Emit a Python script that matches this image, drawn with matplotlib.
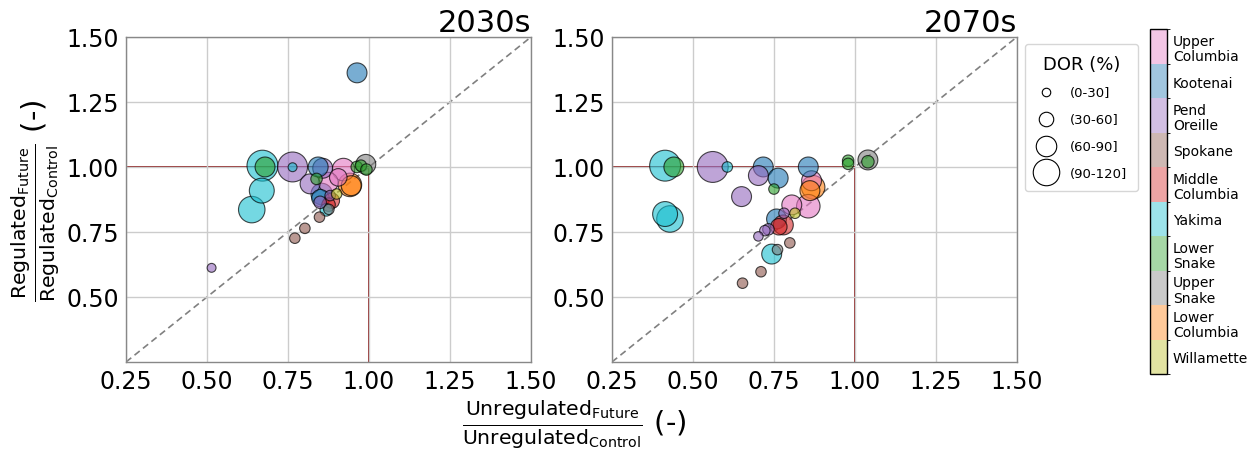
import matplotlib
matplotlib.use("Agg")
import matplotlib.pyplot as plt
import numpy as np
from matplotlib.colors import ListedColormap, BoundaryNorm, to_rgba
from matplotlib.lines import Line2D

plt.rcParams['font.family'] = ['DejaVu Sans']
plt.rcParams['mathtext.fontset'] = 'dejavusans'
plt.rcParams['mathtext.default'] = 'regular'

basins = ['Upper\nColumbia', 'Kootenai', 'Pend\nOreille', 'Spokane', 'Middle\nColumbia',
          'Yakima', 'Lower\nSnake', 'Upper\nSnake', 'Lower\nColumbia', 'Willamette']
basin_colors = ['#e377c2', '#1f77b4', '#9467bd', '#8c564b', '#d62728',
                '#17becf', '#2ca02c', '#7f7f7f', '#ff7f0e', '#bcbd22']

# 2030s: basin index, unregulated ratio, regulated ratio, DOR (%)
b30 = [5, 6, 5, 5, 2, 5, 2, 1, 2, 0, 0, 7, 6, 6, 6, 6, 0, 8, 8, 1, 1, 9, 2, 4, 4, 2, 5, 7, 3, 3, 3, 2, 1]
x30 = [0.671, 0.679, 0.669, 0.638, 0.764, 0.764, 0.818, 0.843, 0.857, 0.921, 0.874, 0.990, 0.962, 0.975, 0.992, 0.838, 0.905, 0.941, 0.945, 0.854, 0.850, 0.900, 0.880, 0.885, 0.875, 0.849, 0.868, 0.876, 0.847, 0.802, 0.771, 0.514, 0.963]
y30 = [1.005, 1.000, 0.909, 0.836, 1.000, 0.999, 0.935, 1.000, 0.995, 0.990, 0.941, 1.010, 1.000, 1.005, 0.990, 0.954, 0.960, 0.931, 0.928, 0.896, 0.880, 0.896, 0.890, 0.870, 0.855, 0.864, 0.835, 0.837, 0.807, 0.764, 0.726, 0.612, 1.362]
d30 = [127, 72, 97, 105, 122, 17, 72, 72, 72, 85, 72, 72, 30, 30, 30, 30, 60, 90, 72, 80, 60, 25, 25, 50, 40, 35, 35, 25, 25, 25, 25, 17, 72]

# 2070s
b70 = [5, 6, 5, 5, 2, 5, 1, 2, 1, 6, 2, 1, 0, 8, 8, 0, 0, 9, 2, 1, 4, 4, 2, 2, 2, 3, 5, 7, 3, 3, 6, 6, 7, 6]
x70 = [0.414, 0.441, 0.414, 0.429, 0.561, 0.606, 0.717, 0.702, 0.763, 0.750, 0.650, 0.856, 0.866, 0.871, 0.861, 0.856, 0.805, 0.815, 0.781, 0.758, 0.779, 0.765, 0.722, 0.733, 0.702, 0.799, 0.743, 0.761, 0.710, 0.653, 0.979, 0.979, 1.040, 1.040]
y70 = [1.005, 1.000, 0.819, 0.800, 1.000, 1.000, 1.000, 0.967, 0.957, 0.915, 0.886, 1.000, 0.947, 0.922, 0.909, 0.849, 0.854, 0.822, 0.822, 0.800, 0.777, 0.770, 0.755, 0.760, 0.733, 0.708, 0.665, 0.682, 0.597, 0.553, 1.024, 1.012, 1.027, 1.020]
d70 = [127, 72, 97, 105, 127, 25, 72, 72, 72, 25, 72, 72, 72, 90, 72, 90, 72, 25, 25, 72, 72, 55, 25, 30, 20, 25, 72, 25, 25, 25, 30, 30, 72, 35]

periods = ['2030s', '2070s']
ticks = [0.25, 0.50, 0.75, 1.00, 1.25, 1.50]
dor_classes = ['(0-30]', '(30-60]', '(60-90]', '(90-120]']
dor_class_mid = [15, 45, 75, 105]

DPI = 100
def dor_to_s(d):
    diam_px = 5.5 + 0.2 * np.asarray(d, dtype=float)
    return (diam_px * 72.0 / DPI) ** 2

fig = plt.figure(figsize=(12.53, 4.52), dpi=DPI)
axes = [fig.add_axes([0.1006, 0.197, 0.3232, 0.719]),
        fig.add_axes([0.4884, 0.197, 0.3232, 0.719])]

data = [(b30, x30, y30, d30), (b70, x70, y70, d70)]
for ax, (b, x, y, d), per in zip(axes, data, periods):
    ax.set_xlim(0.25, 1.5)
    ax.set_ylim(0.25, 1.5)
    ax.set_xticks(ticks)
    ax.set_yticks(ticks[1:])
    ax.set_xticklabels([f'{t:.2f}' for t in ticks])
    ax.set_yticklabels([f'{t:.2f}' for t in ticks[1:]])
    ax.tick_params(labelsize=17, length=0, pad=5)
    ax.grid(True, color='#cccccc', linewidth=1.0, zorder=0)
    for sp in ax.spines.values():
        sp.set_color('#888888')
        sp.set_linewidth(1.0)
    ax.plot([0.25, 1.5], [0.25, 1.5], ls='--', color='#808080', lw=1.2, zorder=1,
            dashes=(4, 2.5))
    ax.plot([0.25, 1.0], [1.0, 1.0], color='#8b1a1a', lw=1.3, zorder=1)
    ax.plot([1.0, 1.0], [0.25, 1.0], color='#8b1a1a', lw=1.3, zorder=1)
    order = np.argsort(-np.asarray(d))
    bb = np.asarray(b)[order]
    cols = [to_rgba(basin_colors[i], 0.6) for i in bb]
    ax.scatter(np.asarray(x)[order], np.asarray(y)[order], s=dor_to_s(np.asarray(d)[order]),
               c=cols, edgecolors=(0, 0, 0, 0.7), linewidths=0.8, zorder=3)
    ax.set_title(per, loc='right', fontsize=22, pad=4)

axes[0].set_ylabel(r'$\frac{Regulated_{Future}}{Regulated_{Control}}$ (-)', fontsize=21, labelpad=4)
fig.text(0.458, 0.062, r'$\frac{Unregulated_{Future}}{Unregulated_{Control}}$ (-)',
         fontsize=21, ha='center', va='center')

# DOR legend
handles = [Line2D([], [], ls='none', marker='o', markerfacecolor='none', markeredgecolor='k',
                  markeredgewidth=0.8, markersize=np.sqrt(dor_to_s(v))) for v in dor_class_mid]
leg = fig.legend(handles, dor_classes, title='DOR (%)', loc='upper left',
                 bbox_to_anchor=(0.813, 0.915), fontsize=9.5, title_fontsize=13,
                 frameon=True, labelspacing=1.05, handletextpad=1.0, borderpad=0.8,
                 handlelength=1.6)
leg.get_frame().set_edgecolor('#cccccc')

# basin colorbar
cax = fig.add_axes([0.918, 0.170, 0.0136, 0.763])
cmap = ListedColormap([to_rgba(c, 0.42) for c in basin_colors[::-1]])
norm = BoundaryNorm(np.arange(len(basins) + 1), cmap.N)
sm = plt.cm.ScalarMappable(norm=norm, cmap=cmap)
cb = fig.colorbar(sm, cax=cax, ticks=np.arange(len(basins)) + 0.5)
cb.ax.set_yticklabels(basins[::-1], fontsize=10, linespacing=1.1)
cb.ax.tick_params(length=0, pad=4)
cb.outline.set_linewidth(1.0)

fig.savefig('out.png', dpi=DPI)
